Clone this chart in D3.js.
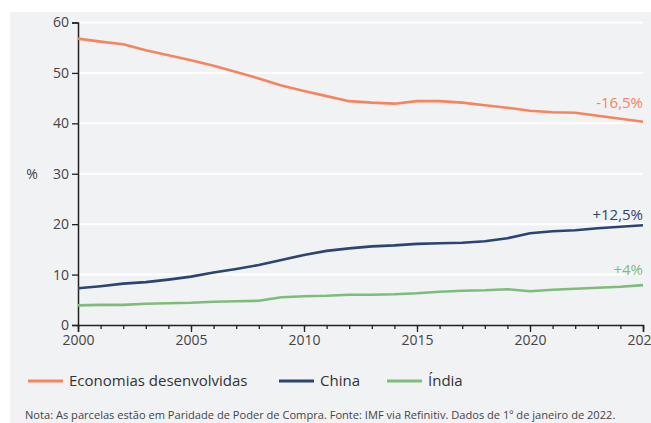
<!DOCTYPE html>
<html>
<head>
<meta charset="utf-8">
<script src="https://cdn.jsdelivr.net/npm/d3@7"></script>
<style>
  html, body { margin: 0; padding: 0; background: #fff; }
  svg { display: block; font-family: "Fira Sans", "Open Sans", "Noto Sans", sans-serif; }
</style>
</head>
<body>
<svg id="chart" width="651" height="423"></svg>
<script>
// Share of world GDP (PPP), %
const years = d3.range(2000, 2026);
const developed = [56.8, 56.2, 55.7, 54.5, 53.5, 52.5, 51.4, 50.2, 48.9, 47.5,
                   46.4, 45.4, 44.4, 44.1, 43.9, 44.4, 44.4, 44.1, 43.6, 43.1,
                   42.5, 42.2, 42.1, 41.5, 40.9, 40.3];
const china = [7.3, 7.7, 8.2, 8.5, 9.0, 9.6, 10.4, 11.1, 11.9, 12.9,
               13.9, 14.7, 15.2, 15.6, 15.8, 16.1, 16.2, 16.3, 16.6, 17.2,
               18.2, 18.6, 18.8, 19.2, 19.5, 19.8];
const india = [3.9, 4.0, 4.0, 4.2, 4.3, 4.4, 4.6, 4.7, 4.8, 5.5,
               5.7, 5.8, 6.0, 6.0, 6.1, 6.3, 6.6, 6.8, 6.9, 7.1,
               6.7, 7.0, 7.2, 7.4, 7.6, 7.9];
const seriesNames = ["Economias desenvolvidas", "China", "Índia"];
const changeLabels = ["-16,5%", "+12,5%", "+4%"];
const yTicks = [0, 10, 20, 30, 40, 50, 60];
const xMajorTicks = [2000, 2005, 2010, 2015, 2020, 2025];

const colors = ["#f5845f", "#2b4570", "#7dbd79"];
const seriesData = [developed, china, india];

const svg = d3.select("#chart");
const W = 651, H = 423;
const FONT = "'Open Sans', sans-serif";

// panel background
svg.append("rect").attr("x", 10).attr("y", 12).attr("width", W - 10).attr("height", H - 12)
  .attr("fill", "#f1f2f4");

const x = d3.scaleLinear().domain([2000, 2025]).range([78, 643]);
const y = d3.scaleLinear().domain([0, 60]).range([325, 22.5]);

// horizontal gridlines
svg.append("g").selectAll("line").data(yTicks.filter(d => d > 0)).join("line")
  .attr("x1", x(2000)).attr("x2", x(2025))
  .attr("y1", d => y(d)).attr("y2", d => y(d))
  .attr("stroke", "#ffffff").attr("stroke-width", 2);

// y axis
const yAxis = svg.append("g").attr("transform", `translate(${x(2000)},0)`)
  .call(d3.axisLeft(y).tickValues(yTicks).tickSize(6).tickPadding(3));
yAxis.select(".domain").attr("stroke", "#222").attr("stroke-width", 1.5);
yAxis.selectAll(".tick line").attr("stroke", "#222").attr("stroke-width", 1.3);
yAxis.selectAll("text").attr("fill", "#444").style("font-size", "14px")
  .style("font-family", FONT);

// x axis: minor ticks every year, longer ticks every 5 years
const xAxisMinor = svg.append("g").attr("transform", `translate(0,${y(0)})`)
  .call(d3.axisBottom(x).tickValues(years).tickSize(4).tickFormat(""));
xAxisMinor.select(".domain").remove();
xAxisMinor.selectAll(".tick line").attr("stroke", "#222").attr("stroke-width", 1.3);

const xAxis = svg.append("g").attr("transform", `translate(0,${y(0)})`)
  .call(d3.axisBottom(x).tickValues(xMajorTicks).tickSize(7).tickPadding(3).tickFormat(d3.format("d")));
xAxis.select(".domain").attr("stroke", "#222").attr("stroke-width", 1.5);
xAxis.selectAll(".tick line").attr("stroke", "#222").attr("stroke-width", 1.3);
xAxis.selectAll("text").attr("fill", "#444").style("font-size", "14px")
  .style("font-family", FONT);

// y unit label
svg.append("text").attr("x", 32).attr("y", y(30)).attr("dy", "0.35em")
  .attr("text-anchor", "middle").attr("fill", "#444")
  .style("font-size", "14px").style("font-family", FONT).text("%");

// series lines
const line = d3.line().x((d, i) => x(years[i])).y(d => y(d)).curve(d3.curveLinear);
svg.append("g").selectAll("path").data(seriesData).join("path")
  .attr("d", d => line(d))
  .attr("fill", "none")
  .attr("stroke", (d, i) => colors[i])
  .attr("stroke-width", 2.6)
  .attr("stroke-linejoin", "round");

// change labels above the line ends
const labelOffsets = [-14, -5, -10];
svg.append("g").selectAll("text").data(seriesData).join("text")
  .attr("x", x(2025))
  .attr("y", (d, i) => y(d[d.length - 1]) + labelOffsets[i])
  .attr("text-anchor", "end")
  .attr("fill", (d, i) => colors[i])
  .style("font-size", "15px")
  .style("font-family", FONT)
  .text((d, i) => changeLabels[i]);

// legend
const legendX = [28, 279, 387];
const lg = svg.append("g").selectAll("g").data(seriesNames).join("g")
  .attr("transform", (d, i) => `translate(${legendX[i]},381)`);
lg.append("line").attr("x1", 0).attr("x2", 35).attr("y1", 0).attr("y2", 0)
  .attr("stroke", (d, i) => colors[i]).attr("stroke-width", 3);
lg.append("text").attr("x", 41).attr("dy", "0.35em").attr("fill", "#333")
  .style("font-size", "15px").style("font-family", FONT)
  .text(d => d);

// footnote
svg.append("text").attr("x", 25).attr("y", 419).attr("fill", "#444")
  .style("font-size", "11.1px").style("font-family", FONT)
  .text("Nota: As parcelas estão em Paridade de Poder de Compra. Fonte: IMF via Refinitiv. Dados de 1º de janeiro de 2022.");
</script>
</body>
</html>
